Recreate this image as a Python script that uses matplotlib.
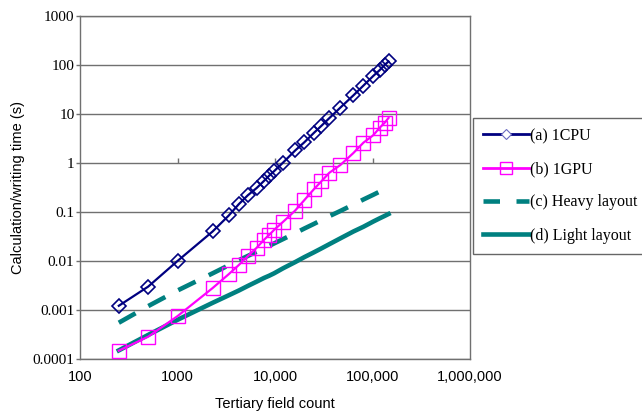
import matplotlib
matplotlib.use("Agg")
import matplotlib.pyplot as plt
from matplotlib.ticker import FixedLocator, NullLocator
from matplotlib.lines import Line2D

field_count = [250, 500, 1000, 2290, 3360, 4260, 5270, 6500, 7700, 8700, 9780, 12100,
               16100, 20000, 25000, 29800, 36000, 46800, 63700, 80700, 102000, 118000,
               133000, 146000]
cpu_time = [0.00122, 0.003, 0.01, 0.04, 0.085, 0.145, 0.22, 0.31, 0.43, 0.55, 0.68, 1.02,
            1.8, 2.65, 4.1, 5.7, 8.2, 13.5, 24, 38, 60, 78, 100, 118]
gpu_time = [0.000148, 0.000285, 0.00075, 0.0028, 0.0054, 0.0083, 0.0126, 0.0187, 0.027,
            0.034, 0.043, 0.063, 0.107, 0.175, 0.29, 0.42, 0.63, 0.91, 1.6, 2.6, 3.7,
            5.2, 6.6, 8.3]
heavy_time = [0.00055, 0.0012, 0.0025, 0.0056, 0.0082, 0.0104, 0.0127, 0.0155, 0.018,
              0.0203, 0.0228, 0.028, 0.037, 0.046, 0.057, 0.068, 0.082, 0.105, 0.142,
              0.18, 0.225, 0.26, 0.29, 0.32]
light_time = [0.00015, 0.00031, 0.00063, 0.0014, 0.002, 0.0025, 0.0031, 0.0038, 0.0045,
              0.005, 0.0056, 0.0071, 0.0095, 0.012, 0.015, 0.018, 0.022, 0.029, 0.04,
              0.05, 0.064, 0.074, 0.083, 0.091]

series_labels = ["(a) 1CPU", "(b) 1GPU", "(c) Heavy layout", "(d) Light layout"]
x_ticks = [100, 1000, 10000, 100000, 1000000]
x_tick_labels = ["100", "1000", "10,000", "100,000", "1,000,000"]
y_ticks = [0.0001, 0.001, 0.01, 0.1, 1, 10, 100, 1000]
y_tick_labels = ["0.0001", "0.001", "0.01", "0.1", "1", "10", "100", "1000"]

NAVY = "#000080"
MAGENTA = "#FF00FF"
TEAL = "#008080"
GRID = "#707070"

fig = plt.figure(figsize=(6.42, 4.16), dpi=100)
ax = fig.add_axes([80 / 642, 57 / 416, 390 / 642, 343 / 416])
ax.set_xscale("log")
ax.set_yscale("log")
ax.set_xlim(100, 1000000)
ax.set_ylim(0.0001, 1000)

for t in y_ticks:
    ax.axhline(t, color=GRID, lw=1.0, zorder=1)

# x-axis ticks drawn on the y=1 line (Excel style)
for t in x_ticks[1:-1]:
    ax.vlines(t, 1, 1.27, color=GRID, lw=1.0, zorder=1)

h_heavy, = ax.plot(field_count, heavy_time, color=TEAL, lw=3.3, dashes=(4.2, 3.2),
                   solid_capstyle="butt", dash_capstyle="butt", zorder=2)
h_light, = ax.plot(field_count, light_time, color=TEAL, lw=3.3, zorder=2)
h_gpu, = ax.plot(field_count, gpu_time, color=MAGENTA, lw=1.6, marker="s", ms=10,
                 mfc="none", mec=MAGENTA, mew=1.0, zorder=3)
h_cpu, = ax.plot(field_count, cpu_time, color=NAVY, lw=1.6, marker="D", ms=7,
                 mfc="none", mec=NAVY, mew=1.2, zorder=4)

ax.xaxis.set_major_locator(FixedLocator(x_ticks))
ax.xaxis.set_minor_locator(NullLocator())
ax.set_xticklabels(x_tick_labels, family="Liberation Sans", fontsize=10.5)
ax.yaxis.set_major_locator(FixedLocator(y_ticks))
ax.yaxis.set_minor_locator(NullLocator())
ax.set_yticklabels(y_tick_labels, family="Liberation Serif", fontsize=11)
ax.tick_params(axis="x", length=0, pad=8)
ax.tick_params(axis="y", length=3, width=1, color=GRID, pad=1)

for s in ax.spines.values():
    s.set_color(GRID)
    s.set_linewidth(1.0)

ax.set_xlabel("Tertiary field count", family="Liberation Sans", fontsize=10.5)
ax.xaxis.set_label_coords(0.5, -0.112)
ax.set_ylabel("Calculation/writing time (s)", family="Liberation Sans", fontsize=10.5)
ax.yaxis.set_label_coords(-0.141, 0.5)

leg_handles = [
    Line2D([], [], color=NAVY, lw=2, marker="D", ms=5, mfc="white", mec="#6a6ac0", mew=0.8),
    Line2D([], [], color=MAGENTA, lw=2, marker="s", ms=8, mfc="none", mec=MAGENTA, mew=1),
    Line2D([], [], color=TEAL, lw=3.3, dashes=(3.6, 3.6), dash_capstyle="butt"),
    Line2D([], [], color=TEAL, lw=3.3),
]
leg = fig.legend(leg_handles, series_labels, loc="upper left",
                 bbox_to_anchor=(473 / 642, 1 - 118 / 416),
                 prop={"family": "Liberation Serif", "size": 11.5},
                 frameon=True, fancybox=False, edgecolor="#404040",
                 handlelength=2.9, handletextpad=0.05, labelspacing=1.08,
                 borderpad=0.62, borderaxespad=0)
leg.get_frame().set_linewidth(1.0)

fig.savefig("out.png", dpi=100)
